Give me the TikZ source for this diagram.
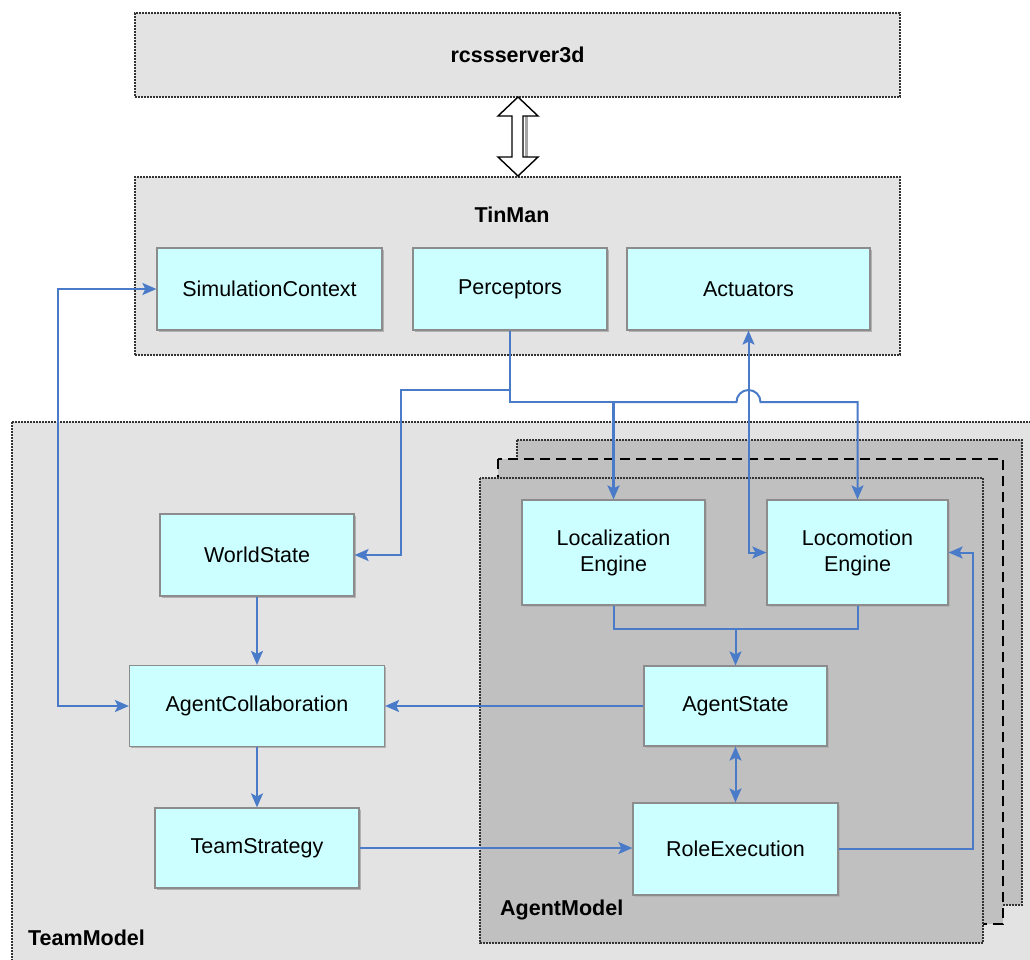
\documentclass[tikz,border=0pt]{standalone}
\usepackage{fontspec}
\setmainfont{Liberation Sans}
\usetikzlibrary{arrows.meta}
\tikzset{>={Stealth[length=14pt,width=12pt,inset=3pt]}}
\usetikzlibrary{shadows}
\usetikzlibrary{positioning}
\definecolor{panel}{HTML}{E3E3E3}
\definecolor{agentfill}{HTML}{C0C0C0}
\definecolor{compfill}{HTML}{CCFFFF}
\definecolor{link}{HTML}{4A7BC8}
\tikzset{
  container/.style={draw=black!80, densely dotted, line width=2pt, fill=panel, inner sep=0pt},
  comp/.style={draw=black!45, line width=1.2pt, fill=compfill, align=center, inner sep=0pt,
    font=\fontsize{21.5}{26}\selectfont,
    general shadow={shadow xshift=1.5pt, shadow yshift=-1.5pt, fill=black!30}},
  conn/.style={draw=link, line width=2pt},
  title/.style={font=\bfseries\fontsize{21.5}{26}\selectfont, inner sep=0pt}
}

\begin{document}
\begin{tikzpicture}[x=1pt,y=-1pt]
        \useasboundingbox (0,0) rectangle (1030,959);
        % containers
        \node[container, title, minimum width=765pt, minimum height=84pt] (server) at (517.5,55) {rcssserver3d};
        \node[container, minimum width=765pt, minimum height=178pt] (tinman) at (517.5,266) {};
        \node[title] (tinmanlabel) at (512,215) {TinMan};
        \draw[container] (12,422) rectangle (1040,970);
        \node[title, anchor=west] (teamlabel) at (28,938) {TeamModel};
        \draw[container, fill=agentfill] (517,440) rectangle (1022,905);
        \draw[fill=agentfill, draw=black, line width=2pt, dash pattern=on 10pt off 6pt] (498,459) rectangle (1003,924);
        \draw[container, fill=agentfill] (480,478) rectangle (983,943);
        \node[title, anchor=west] (agentlabel) at (500,910) {AgentModel};
        % server <-> tinman
        \draw[fill=black!35, draw=none] (525,116) rectangle (527.5,157);
        \draw[fill=white, line width=1.4pt, line join=miter]
          (518,97) -- (538,116) -- (523,116) -- (523,157) -- (538,157) -- (518,176)
          -- (498,157) -- (512,157) -- (512,116) -- (498,116) -- cycle;
        % components
        \node[comp, minimum width=225pt, minimum height=82pt] (simctx) at (269.5,289) {SimulationContext};
        \node[comp, minimum width=194pt, minimum height=82pt] (percep) at (510,289) {Perceptors};
        \node[comp, minimum width=243pt, minimum height=82pt] (actu) at (748.5,289) {Actuators};
        \node[comp, minimum width=194pt, minimum height=82pt] (world) at (257,555) {WorldState};
        \node[comp, minimum width=255pt, minimum height=81pt] (collab) at (257,706) {AgentCollaboration};
        \node[comp, minimum width=204pt, minimum height=80pt] (strategy) at (257,848) {TeamStrategy};
        \node[comp, minimum width=183pt, minimum height=105pt] (locali) at (613.5,552.5) {Localization\\Engine};
        \node[comp, minimum width=181pt, minimum height=105pt] (locom) at (857.5,552.5) {Locomotion\\Engine};
        \node[comp, minimum width=183pt, minimum height=80pt] (astate) at (735.5,706) {AgentState};
        \node[comp, minimum width=205pt, minimum height=92pt] (role) at (735.5,849) {RoleExecution};
        % connectors
        \coordinate (split) at (510,390);
        \coordinate (trunk) at (613.5,402);
        \coordinate (merge) at (735.5,629);
        \draw[conn, ->] (split) -- (401,390) |- (world.east);
        \draw[conn, ->] (trunk) -- (736.5,402) arc (180:0:12pt) -- (locom.north |- trunk) -- (locom.north);
        \draw[conn, ->, line width=2.6pt] (percep.south) |- (trunk) -- (locali.north);
        \draw[conn, <->] (actu.south) -- (actu.south |- locom.west) -- (locom.west);
        \draw[conn, <->] (simctx.west) -- (58,289) |- (collab.west);
        \draw[conn, ->] (world) -- (collab);
        \draw[conn, ->] (collab) -- (strategy);
        \draw[conn, ->] (astate.west) -- (astate.west -| collab.east);
        \draw[conn, ->] (strategy.east) -- (strategy.east -| role.west);
        \draw[conn] (locali.south) |- (merge) -| (locom.south);
        \draw[conn, ->] (merge) -- (astate.north);
        \draw[conn, <->] (astate) -- (role);
        \draw[conn, ->] (role.east) -- (973,849) |- (locom.east);
      \end{tikzpicture}
\end{document}
